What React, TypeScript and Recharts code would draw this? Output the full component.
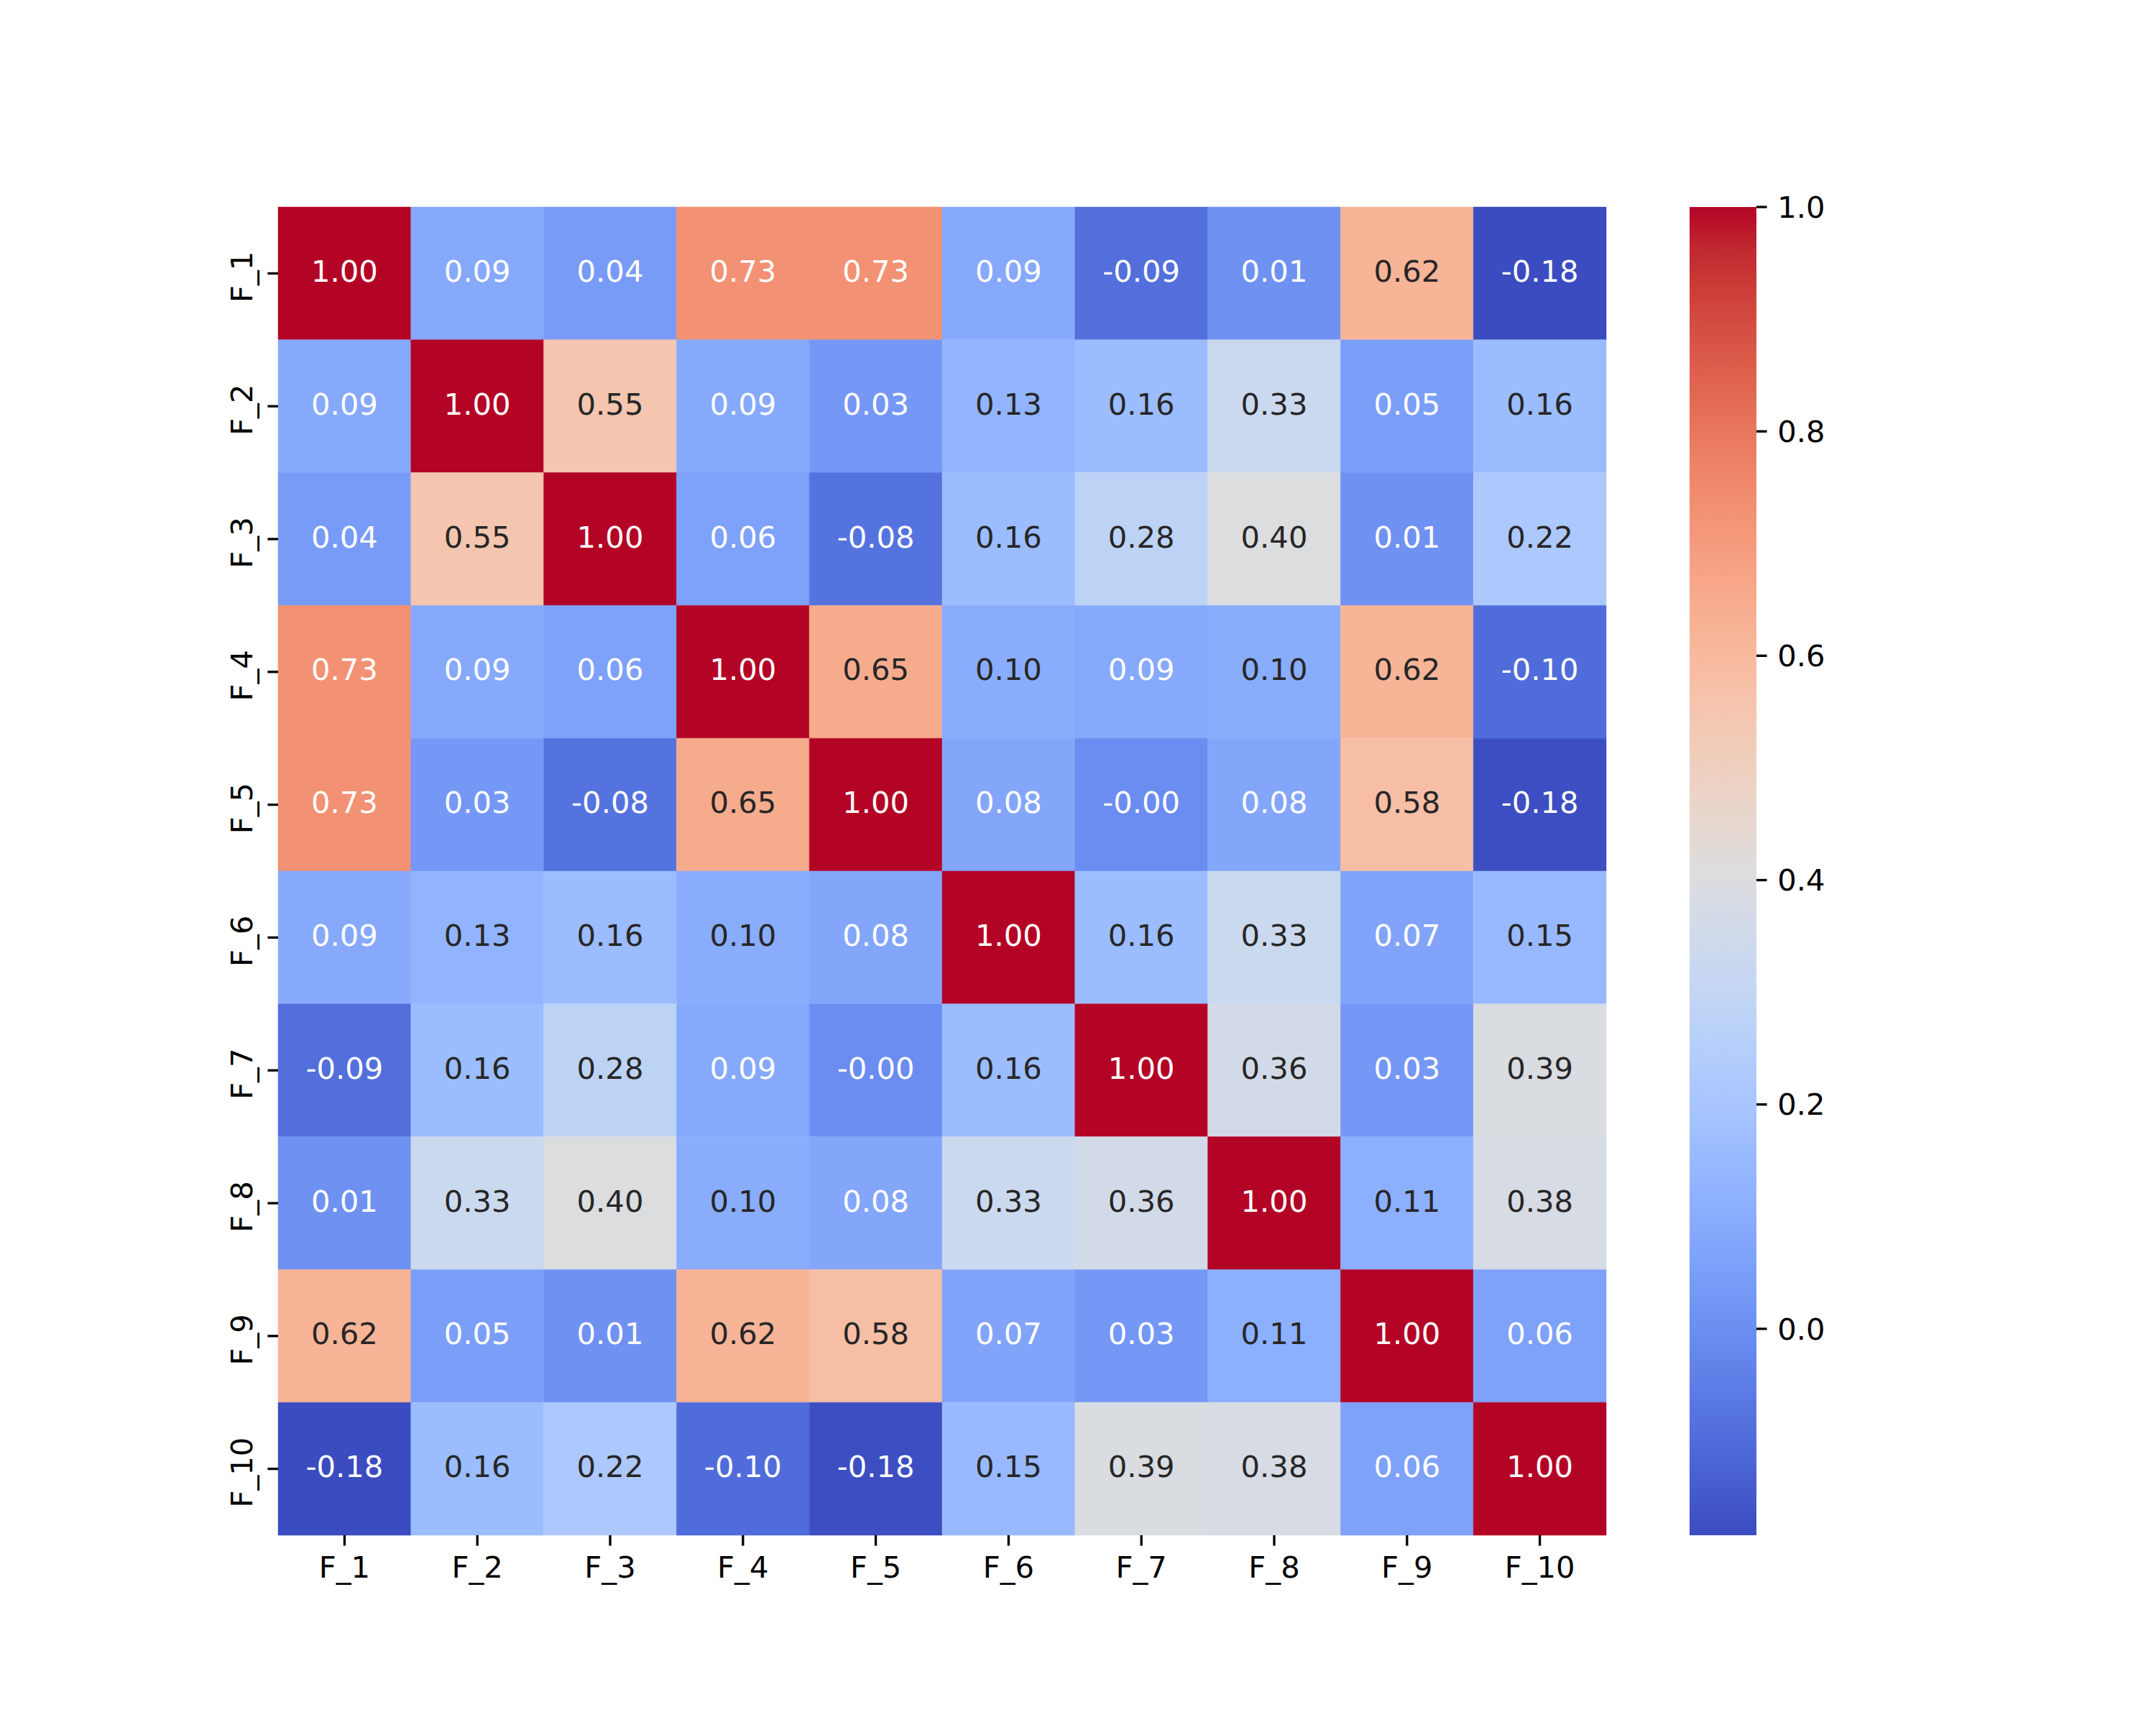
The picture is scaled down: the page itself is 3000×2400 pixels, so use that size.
import React from 'react';
import { ScatterChart, Scatter, XAxis, YAxis, ReferenceArea } from 'recharts';

const features = ['F_1', 'F_2', 'F_3', 'F_4', 'F_5', 'F_6', 'F_7', 'F_8', 'F_9', 'F_10'];

const rowF1 = [1.0, 0.09, 0.04, 0.73, 0.73, 0.09, -0.09, 0.01, 0.62, -0.184];
const rowF2 = [0.09, 1.0, 0.55, 0.09, 0.03, 0.13, 0.16, 0.33, 0.05, 0.16];
const rowF3 = [0.04, 0.55, 1.0, 0.06, -0.08, 0.16, 0.28, 0.4, 0.01, 0.22];
const rowF4 = [0.73, 0.09, 0.06, 1.0, 0.65, 0.1, 0.09, 0.1, 0.62, -0.1];
const rowF5 = [0.73, 0.03, -0.08, 0.65, 1.0, 0.08, -0.004, 0.08, 0.58, -0.18];
const rowF6 = [0.09, 0.13, 0.16, 0.1, 0.08, 1.0, 0.16, 0.33, 0.07, 0.15];
const rowF7 = [-0.09, 0.16, 0.28, 0.09, -0.004, 0.16, 1.0, 0.36, 0.03, 0.39];
const rowF8 = [0.01, 0.33, 0.4, 0.1, 0.08, 0.33, 0.36, 1.0, 0.11, 0.38];
const rowF9 = [0.62, 0.05, 0.01, 0.62, 0.58, 0.07, 0.03, 0.11, 1.0, 0.06];
const rowF10 = [-0.184, 0.16, 0.22, -0.1, -0.18, 0.15, 0.39, 0.38, 0.06, 1.0];

const matrix = [rowF1, rowF2, rowF3, rowF4, rowF5, rowF6, rowF7, rowF8, rowF9, rowF10];

const colorbarTicks = [0.0, 0.2, 0.4, 0.6, 0.8, 1.0];

// coolwarm colormap (Moreland) reference stops
const coolwarm: number[][] = [
  [59, 76, 192], [68, 90, 204], [77, 104, 215], [87, 117, 225], [98, 130, 234],
  [108, 142, 241], [119, 154, 247], [130, 165, 251], [141, 176, 254], [152, 185, 255],
  [163, 194, 255], [174, 201, 253], [184, 208, 249], [194, 213, 244], [204, 217, 238],
  [213, 219, 230], [221, 221, 221], [229, 216, 209], [236, 211, 197], [241, 204, 185],
  [245, 196, 173], [247, 187, 160], [247, 177, 148], [247, 166, 135], [244, 154, 123],
  [241, 141, 111], [236, 127, 99], [229, 112, 88], [222, 96, 77], [213, 80, 66],
  [203, 62, 56], [192, 40, 47], [180, 4, 38],
];

const allVals = matrix.flat();
const vmin = Math.min(...allVals);
const vmax = Math.max(...allVals);

function cmapRGB(t: number): number[] {
  const tt = Math.max(0, Math.min(1, t));
  const n = coolwarm.length - 1;
  const p = tt * n;
  const i = Math.min(n - 1, Math.floor(p));
  const f = p - i;
  const a = coolwarm[i];
  const b = coolwarm[i + 1];
  return [0, 1, 2].map((k) => a[k] + (b[k] - a[k]) * f);
}
function rgbStr(c: number[]) {
  return `rgb(${Math.round(c[0])},${Math.round(c[1])},${Math.round(c[2])})`;
}
function colorFor(v: number) {
  return cmapRGB((v - vmin) / (vmax - vmin));
}
function luminance(c: number[]) {
  const lin = c.map((x) => {
    const s = x / 255;
    return s <= 0.03928 ? s / 12.92 : Math.pow((s + 0.055) / 1.055, 2.4);
  });
  return 0.2126 * lin[0] + 0.7152 * lin[1] + 0.0722 * lin[2];
}

const cells = matrix.flatMap((row, r) =>
  row.map((v, c) => ({ x: c + 0.5, y: r + 0.5, r, c, v, label: v.toFixed(2) }))
);

const centerTicks = features.map((_, i) => i + 0.5);
const FONT = 'DejaVu Sans, sans-serif';
const FS = 41.7;

const XTick = (props: any) => {
  const { x, y, payload } = props;
  const name = features[Math.floor(payload.value)];
  return (
    <text x={x} y={y + 44.4} textAnchor="middle" fontSize={FS} fontFamily={FONT} fill="#000">
      {name}
    </text>
  );
};

const YTick = (props: any) => {
  const { y, payload } = props;
  const name = features[Math.floor(payload.value)];
  return (
    <text
      transform={`translate(351,${y + 5}) rotate(-90)`}
      x={0}
      y={0}
      textAnchor="middle"
      fontSize={FS}
      fontFamily={FONT}
      fill="#000"
    >
      {name}
    </text>
  );
};

const AnnotShape = (props: any) => {
  const { cx, cy, payload } = props;
  const col = colorFor(payload.v);
  const txt = luminance(col) > 0.408 ? '#262626' : '#ffffff';
  return (
    <text x={cx} y={cy + 11.5} textAnchor="middle" fontSize={FS} fontFamily={FONT} fill={txt}>
      {payload.label}
    </text>
  );
};

const EmptyShape = () => <g />;

const gradStops = coolwarm.map((c, i) => ({ offset: 1 - i / (coolwarm.length - 1), color: rgbStr(c) }));

export default function App() {
  return (
    <div style={{ position: 'absolute', left: 0, top: 0, width: 3000, height: 2400, background: '#fff' }}>
      <div style={{ position: 'absolute', left: 0, top: 0 }}>
        <ScatterChart width={3000} height={2400} margin={{ top: 288, right: 765, bottom: 164, left: 287 }}>
          <XAxis
            type="number"
            dataKey="x"
            domain={[0, 10]}
            ticks={centerTicks}
            interval={0}
            height={100}
            axisLine={false}
            tickSize={14.6}
            tickMargin={0}
            tickLine={{ stroke: '#000', strokeWidth: 3.3 }}
            tick={<XTick />}
            allowDataOverflow
          />
          <YAxis
            type="number"
            dataKey="y"
            domain={[0, 10]}
            reversed
            ticks={centerTicks}
            interval={0}
            width={100}
            axisLine={false}
            tickSize={14.6}
            tickMargin={0}
            tickLine={{ stroke: '#000', strokeWidth: 3.3 }}
            tick={<YTick />}
            allowDataOverflow
          />
          {cells.map((cell) => (
            <ReferenceArea
              key={`cell-${cell.r}-${cell.c}`}
              x1={cell.c}
              x2={cell.c + 1}
              y1={cell.r}
              y2={cell.r + 1}
              fill={rgbStr(colorFor(cell.v))}
              fillOpacity={1}
              stroke={rgbStr(colorFor(cell.v))}
              strokeWidth={0.5}
              ifOverflow="visible"
            />
          ))}
          <Scatter data={cells} shape={<AnnotShape />} isAnimationActive={false} />
        </ScatterChart>
      </div>
      <div style={{ position: 'absolute', left: 0, top: 0 }}>
        <ScatterChart width={3000} height={2400} margin={{ top: 288, right: 356, bottom: 264, left: 2351 }}>
          <defs>
            <linearGradient id="cbgrad" x1="0" y1="0" x2="0" y2="1">
              {gradStops
                .slice()
                .reverse()
                .map((s, i) => (
                  <stop key={i} offset={`${(s.offset * 100).toFixed(3)}%`} stopColor={s.color} />
                ))}
            </linearGradient>
          </defs>
          <XAxis type="number" dataKey="x" domain={[0, 1]} hide allowDataOverflow />
          <YAxis
            type="number"
            dataKey="y"
            orientation="right"
            domain={[vmin, vmax]}
            ticks={colorbarTicks}
            interval={0}
            width={200}
            axisLine={false}
            tickSize={14.6}
            tickMargin={14.6}
            tickLine={{ stroke: '#000', strokeWidth: 3.3 }}
            tick={{ fill: '#000', fontSize: FS, fontFamily: FONT }}
            tickFormatter={(v: number) => v.toFixed(1)}
            allowDataOverflow
          />
          <ReferenceArea x1={0} x2={1} y1={vmin} y2={vmax} fill="url(#cbgrad)" fillOpacity={1} stroke="none" ifOverflow="visible" />
          <Scatter data={[{ x: 0.5, y: 0.5 }]} shape={<EmptyShape />} isAnimationActive={false} />
        </ScatterChart>
      </div>
    </div>
  );
}
